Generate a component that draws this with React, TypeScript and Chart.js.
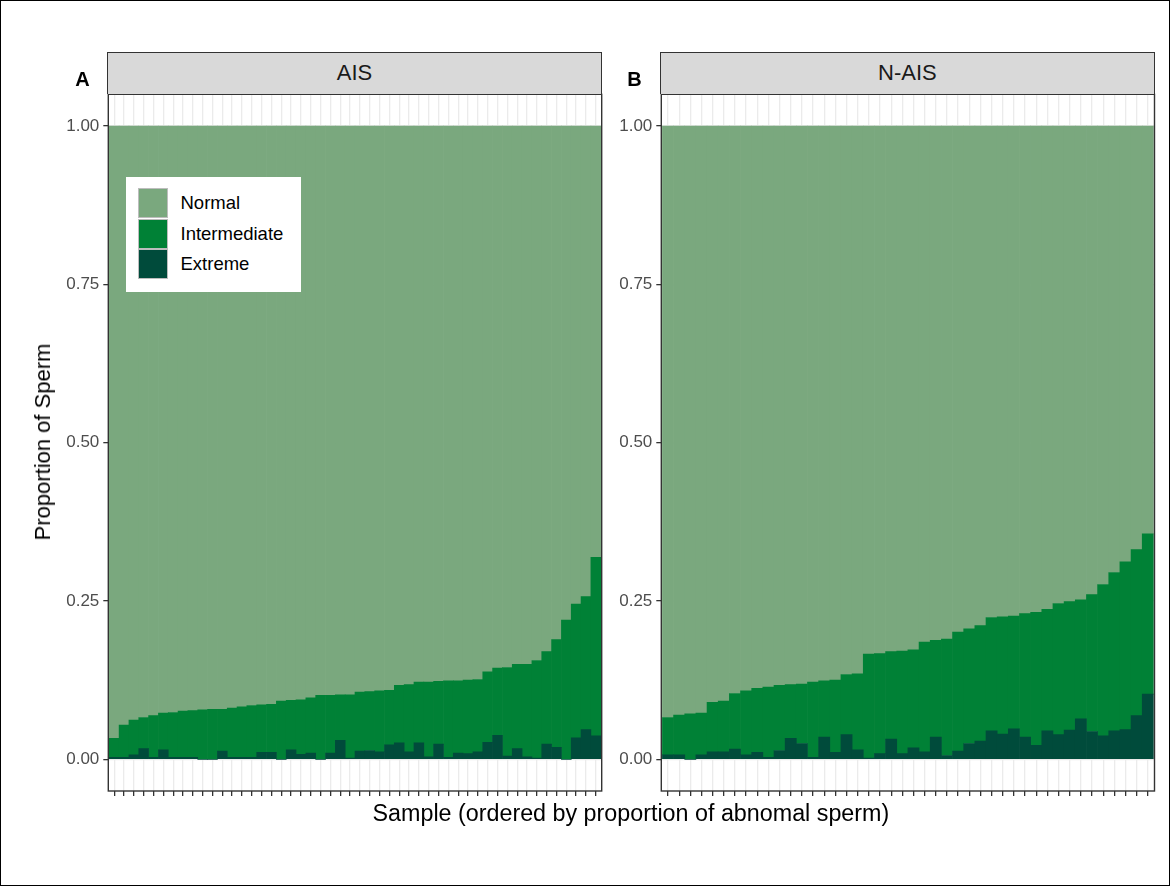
import React, { useEffect, useRef } from "react";
import { Chart, registerables } from "chart.js";

Chart.register(...registerables);

// ---------- data ----------
const categoryNames = ["Normal", "Intermediate", "Extreme"];
const panelTitles = ["AIS", "N-AIS"];
const panelLetters = ["A", "B"];
const yTickValues = [0, 0.25, 0.5, 0.75, 1];

// AIS panel, 50 samples ordered by proportion of abnormal sperm
const aisExtreme = [
  0.003, 0.003, 0.007, 0.017, 0.003, 0.015, 0.003, 0.003, 0.003, 0.0,
  0.0, 0.013, 0.003, 0.003, 0.003, 0.011, 0.011, 0.0, 0.015, 0.008,
  0.010, 0.0, 0.010, 0.030, 0.002, 0.013, 0.014, 0.012, 0.023, 0.026,
  0.012, 0.026, 0.004, 0.024, 0.003, 0.010, 0.009, 0.012, 0.027, 0.038,
  0.005, 0.017, 0.004, 0.002, 0.024, 0.019, 0.0, 0.034, 0.047, 0.037,
];
const aisIntermediate = [
  0.030, 0.051, 0.055, 0.049, 0.066, 0.058, 0.071, 0.073, 0.074, 0.078,
  0.079, 0.066, 0.078, 0.080, 0.082, 0.075, 0.076, 0.092, 0.078, 0.086,
  0.087, 0.101, 0.091, 0.072, 0.100, 0.093, 0.093, 0.096, 0.086, 0.091,
  0.106, 0.096, 0.118, 0.099, 0.121, 0.114, 0.116, 0.114, 0.111, 0.106,
  0.140, 0.133, 0.146, 0.154, 0.146, 0.170, 0.220, 0.211, 0.210, 0.282,
];
const aisNormal = [
  0.967, 0.946, 0.938, 0.934, 0.931, 0.927, 0.926, 0.924, 0.923, 0.922,
  0.921, 0.921, 0.919, 0.917, 0.915, 0.914, 0.913, 0.908, 0.907, 0.906,
  0.903, 0.899, 0.899, 0.898, 0.898, 0.894, 0.893, 0.892, 0.891, 0.883,
  0.882, 0.878, 0.878, 0.877, 0.876, 0.876, 0.875, 0.874, 0.862, 0.856,
  0.855, 0.850, 0.850, 0.844, 0.830, 0.811, 0.780, 0.755, 0.743, 0.681,
];

// N-AIS panel, 44 samples
const naisExtreme = [
  0.007, 0.007, 0.0, 0.007, 0.012, 0.012, 0.016, 0.007, 0.011, 0.003,
  0.014, 0.033, 0.025, 0.003, 0.035, 0.011, 0.039, 0.015, 0.002, 0.009,
  0.032, 0.009, 0.018, 0.012, 0.035, 0.006, 0.013, 0.025, 0.029, 0.045,
  0.040, 0.048, 0.035, 0.022, 0.045, 0.039, 0.046, 0.064, 0.044, 0.037,
  0.045, 0.047, 0.069, 0.103,
];
const naisIntermediate = [
  0.059, 0.063, 0.072, 0.066, 0.078, 0.080, 0.088, 0.101, 0.101, 0.111,
  0.103, 0.085, 0.094, 0.119, 0.089, 0.114, 0.095, 0.120, 0.164, 0.158,
  0.138, 0.162, 0.155, 0.173, 0.153, 0.184, 0.188, 0.181, 0.182, 0.179,
  0.185, 0.178, 0.195, 0.210, 0.192, 0.207, 0.203, 0.188, 0.216, 0.239,
  0.250, 0.265, 0.262, 0.253,
];
const naisNormal = [
  0.934, 0.930, 0.928, 0.927, 0.910, 0.908, 0.896, 0.892, 0.888, 0.886,
  0.883, 0.882, 0.881, 0.878, 0.876, 0.875, 0.866, 0.865, 0.834, 0.833,
  0.830, 0.829, 0.827, 0.815, 0.812, 0.810, 0.799, 0.794, 0.789, 0.776,
  0.775, 0.774, 0.770, 0.768, 0.763, 0.754, 0.751, 0.748, 0.740, 0.724,
  0.705, 0.688, 0.669, 0.644,
];

// ---------- styles ----------
const COLORS: Record<string, string> = {
  Normal: "#7AA87E",
  Intermediate: "#008136",
  Extreme: "#004B3B",
};
const FONT = '"Liberation Sans", Arial, Helvetica, sans-serif';
const W = 1170;
const H = 886;
const PANEL_TOP = 94.3;
const PANEL_BOTTOM = 791;
const X_AXIS_H = 30;
const STRIP_TOP = 52.7;

const panels = [
  { left: 108.3, right: 601.7, ext: aisExtreme, inter: aisIntermediate, norm: aisNormal },
  { left: 661.3, right: 1154.5, ext: naisExtreme, inter: naisIntermediate, norm: naisNormal },
];

const borderPlugin = {
  id: "panelBorder",
  afterDraw(chart: any) {
    const { ctx, chartArea: a } = chart;
    ctx.save();
    ctx.strokeStyle = "#333333";
    ctx.lineWidth = 1.4;
    ctx.strokeRect(a.left, a.top, a.right - a.left, a.bottom - a.top);
    ctx.restore();
  },
};

function Panel({ idx }: { idx: number }) {
  const ref = useRef<HTMLCanvasElement>(null);
  useEffect(() => {
    const p = panels[idx];
    const n = p.ext.length;
    const mk = (arr: number[]) => arr.map((v, i) => ({ x: i + 1, y: v }));
    const seriesByName: Record<string, number[]> = {
      Extreme: p.ext,
      Intermediate: p.inter,
      Normal: p.norm,
    };
    const order = ["Extreme", "Intermediate", "Normal"];
    const chart = new Chart(ref.current as HTMLCanvasElement, {
      type: "bar",
      data: {
        datasets: order.map((name) => ({
          label: name,
          data: mk(seriesByName[name]),
          backgroundColor: COLORS[name],
          borderWidth: 0,
          barPercentage: 1,
          categoryPercentage: 1,
        })),
      } as any,
      options: {
        animation: false,
        responsive: false,
        maintainAspectRatio: false,
        events: [],
        layout: {
          padding: {
            left: 0,
            right: W - p.right,
            top: PANEL_TOP,
            bottom: H - PANEL_BOTTOM - X_AXIS_H,
          },
        },
        plugins: { legend: { display: false }, tooltip: { enabled: false } },
        scales: {
          x: {
            type: "linear",
            stacked: true,
            offset: false,
            min: 0.4,
            max: n + 0.6,
            afterBuildTicks: (s: any) => {
              s.ticks = p.ext.map((_, i) => ({ value: i + 1 }));
            },
            ticks: { display: false },
            grid: {
              offset: false,
              color: "#EBEBEB",
              lineWidth: 1.3,
              drawTicks: true,
              tickLength: 5,
              tickColor: "#333333",
              tickWidth: 1.3,
            },
            border: { display: false },
            afterFit: (s: any) => {
              s.height = X_AXIS_H;
            },
          },
          y: {
            type: "linear",
            stacked: true,
            min: -0.05,
            max: 1.05,
            afterBuildTicks: (s: any) => {
              s.ticks = yTickValues.map((v) => ({ value: v }));
            },
            ticks: {
              callback: (v: any) => Number(v).toFixed(2),
              color: "#4D4D4D",
              font: { family: FONT, size: 17 },
              padding: 4,
              autoSkip: false,
            },
            grid: {
              color: "#EBEBEB",
              lineWidth: 1.3,
              drawTicks: true,
              tickLength: 5,
              tickColor: "#333333",
              tickWidth: 1.3,
            },
            border: { display: false },
            afterFit: (s: any) => {
              s.width = p.left;
            },
          },
        },
      } as any,
      plugins: [borderPlugin],
    });
    return () => chart.destroy();
  }, [idx]);
  return (
    <canvas
      ref={ref}
      width={W}
      height={H}
      style={{ position: "absolute", left: 0, top: 0, width: W, height: H }}
    />
  );
}

function Strip({ idx }: { idx: number }) {
  const p = panels[idx];
  return (
    <div
      style={{
        position: "absolute",
        left: p.left - 0.7,
        top: STRIP_TOP,
        width: p.right - p.left + 1.4,
        height: PANEL_TOP - STRIP_TOP,
        boxSizing: "border-box",
        background: "#D9D9D9",
        border: "1.4px solid #333333",
        borderBottom: "none",
        display: "flex",
        alignItems: "center",
        justifyContent: "center",
        fontFamily: FONT,
        fontSize: 22,
        color: "#1A1A1A",
      }}
    >
      {panelTitles[idx]}
    </div>
  );
}

function Legend() {
  const tops = [11, 42, 72];
  return (
    <div
      style={{
        position: "absolute",
        left: 126,
        top: 177,
        width: 175,
        height: 115,
        background: "#FFFFFF",
        zIndex: 5,
      }}
    >
      {categoryNames.map((name, i) => (
        <React.Fragment key={name}>
          <div
            style={{
              position: "absolute",
              left: 12,
              top: tops[i],
              width: 30,
              height: 30,
              boxSizing: "border-box",
              background: COLORS[name],
              border: "1.3px solid #BDBDBD",
            }}
          />
          <div
            style={{
              position: "absolute",
              left: 55,
              top: tops[i],
              height: 30,
              lineHeight: "30px",
              fontFamily: FONT,
              fontSize: 18.5,
              color: "#000000",
              whiteSpace: "nowrap",
            }}
          >
            {name}
          </div>
        </React.Fragment>
      ))}
    </div>
  );
}

export default function App() {
  return (
    <div
      style={{
        position: "absolute",
        left: 0,
        top: 0,
        width: W,
        height: H,
        boxSizing: "border-box",
        border: "1.5px solid #000000",
        background: "#FFFFFF",
        overflow: "hidden",
      }}
    >
      <div style={{ position: "absolute", left: -1.5, top: -1.5, width: W, height: H }}>
        <Panel idx={0} />
        <Panel idx={1} />
        <Strip idx={0} />
        <Strip idx={1} />
        <Legend />
        {panelLetters.map((L, i) => (
          <div
            key={L}
            style={{
              position: "absolute",
              left: i === 0 ? 73 : 625,
              top: 66,
              width: 20,
              textAlign: "center",
              fontFamily: FONT,
              fontWeight: "bold",
              fontSize: 20,
              lineHeight: "26px",
              color: "#000000",
            }}
          >
            {L}
          </div>
        ))}
        <div
          style={{
            position: "absolute",
            left: 43,
            top: (PANEL_TOP + PANEL_BOTTOM) / 2,
            transform: "translate(-50%, -50%) rotate(-90deg)",
            fontFamily: FONT,
            fontSize: 22,
            color: "#000000",
            whiteSpace: "nowrap",
          }}
        >
          Proportion of Sperm
        </div>
        <div
          style={{
            position: "absolute",
            left: (panels[0].left + panels[1].right) / 2,
            top: 813,
            transform: "translate(-50%, -50%)",
            fontFamily: FONT,
            fontSize: 23.3,
            color: "#000000",
            whiteSpace: "nowrap",
          }}
        >
          Sample (ordered by proportion of abnomal sperm)
        </div>
      </div>
    </div>
  );
}
